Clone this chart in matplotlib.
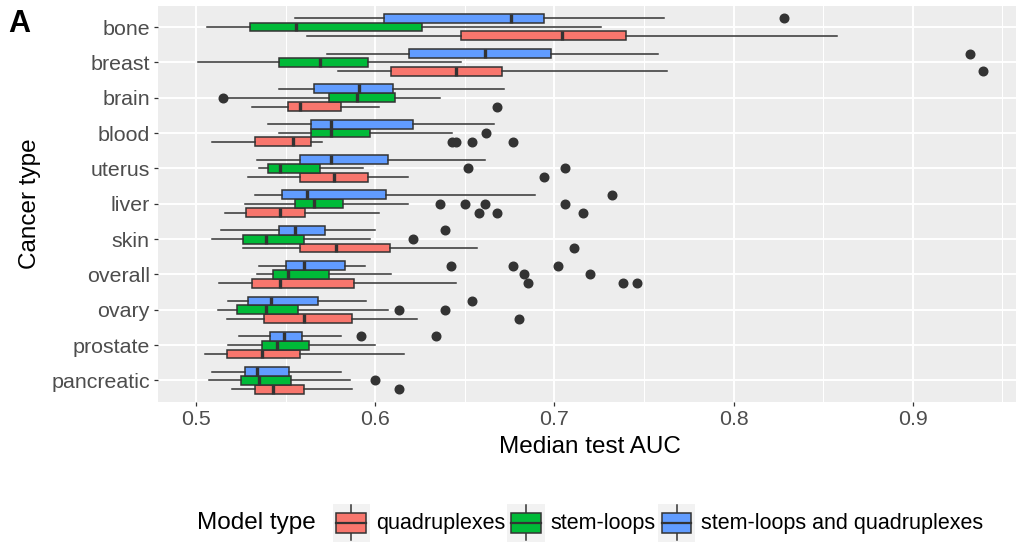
import matplotlib

matplotlib.use("Agg")
import matplotlib.pyplot as plt
from matplotlib.legend_handler import HandlerBase
from matplotlib.lines import Line2D
from matplotlib.patches import Patch, Rectangle
from matplotlib.ticker import MultipleLocator

plt.rcParams["font.family"] = ["Liberation Sans", "DejaVu Sans"]

# categories top -> bottom as drawn
CANCER_TYPES = ["bone", "breast", "brain", "blood", "uterus", "liver", "skin",
                "overall", "ovary", "prostate", "pancreatic"]
MODEL_TYPES = ["quadruplexes", "stem-loops", "stem-loops and quadruplexes"]
COLORS = ["#F8766D", "#00BA38", "#619CFF"]

# quadruplexes
QUAD_LO = [0.562, 0.579, 0.531, 0.509, 0.529, 0.516, 0.526, 0.513, 0.517, 0.505, 0.520]
QUAD_Q1 = [0.648, 0.609, 0.551, 0.533, 0.558, 0.528, 0.558, 0.531, 0.538, 0.517, 0.533]
QUAD_MED = [0.704, 0.645, 0.558, 0.554, 0.577, 0.547, 0.578, 0.547, 0.560, 0.537, 0.543]
QUAD_Q3 = [0.740, 0.671, 0.581, 0.564, 0.596, 0.561, 0.608, 0.588, 0.587, 0.558, 0.560]
QUAD_HI = [0.858, 0.763, 0.602, 0.570, 0.618, 0.602, 0.657, 0.645, 0.623, 0.616, 0.587]
QUAD_OUT = [[], [0.939], [0.668], [0.643, 0.645, 0.654, 0.677], [0.694],
            [0.658, 0.668, 0.716], [0.711], [0.685, 0.738, 0.746], [0.680], [], [0.613]]

# stem-loops
STEM_LO = [0.506, 0.501, 0.517, 0.546, 0.535, 0.527, 0.509, 0.534, 0.512, 0.518, 0.507]
STEM_Q1 = [0.530, 0.546, 0.574, 0.564, 0.540, 0.555, 0.526, 0.543, 0.523, 0.537, 0.525]
STEM_MED = [0.556, 0.569, 0.590, 0.575, 0.547, 0.566, 0.539, 0.551, 0.539, 0.545, 0.535]
STEM_Q3 = [0.626, 0.596, 0.611, 0.597, 0.569, 0.582, 0.560, 0.574, 0.557, 0.563, 0.553]
STEM_HI = [0.726, 0.648, 0.636, 0.643, 0.593, 0.618, 0.597, 0.609, 0.607, 0.600, 0.586]
STEM_OUT = [[], [], [0.515], [0.662], [0.652, 0.706], [0.636, 0.650, 0.661, 0.706],
            [0.621], [0.683, 0.720], [0.613, 0.639], [], [0.600]]

# stem-loops and quadruplexes
BOTH_LO = [0.555, 0.573, 0.546, 0.540, 0.534, 0.533, 0.514, 0.535, 0.518, 0.524, 0.509]
BOTH_Q1 = [0.605, 0.619, 0.566, 0.564, 0.558, 0.548, 0.546, 0.550, 0.529, 0.541, 0.527]
BOTH_MED = [0.676, 0.661, 0.591, 0.575, 0.575, 0.562, 0.555, 0.560, 0.542, 0.549, 0.534]
BOTH_Q3 = [0.694, 0.698, 0.610, 0.621, 0.607, 0.606, 0.572, 0.583, 0.568, 0.559, 0.552]
BOTH_HI = [0.761, 0.758, 0.672, 0.666, 0.661, 0.689, 0.600, 0.594, 0.595, 0.581, 0.581]
BOTH_OUT = [[0.828], [0.932], [], [], [], [0.732], [0.639], [0.642, 0.677, 0.702],
            [0.654], [0.592, 0.634], []]

EDGE = "#333333"
W, H = 1016, 544


def _stats(lo, q1, med, q3, hi, out):
    return [dict(whislo=a, q1=b, med=c, q3=d, whishi=e, fliers=f)
            for a, b, c, d, e, f in zip(lo, q1, med, q3, hi, out)]


class BoxKeyHandler(HandlerBase):
    # ggplot-style boxplot legend key: grey square, box, median, whiskers
    def create_artists(self, legend, orig_handle, xdescent, ydescent,
                       width, height, fontsize, trans):
        x0, y0 = -xdescent, -ydescent
        bg = Rectangle((x0, y0), width, height, facecolor="#F2F2F2",
                       edgecolor="none", transform=trans)
        bw, bh = width * 0.8, height * 0.53
        bx, by = x0 + (width - bw) / 2, y0 + (height - bh) / 2
        xm = x0 + width / 2
        w1 = Line2D([xm, xm], [by + bh, y0 + height * 0.97], color=EDGE, lw=1.1,
                    transform=trans)
        w2 = Line2D([xm, xm], [y0 + height * 0.03, by], color=EDGE, lw=1.1,
                    transform=trans)
        box = Rectangle((bx, by), bw, bh, facecolor=orig_handle.get_facecolor(),
                        edgecolor=EDGE, lw=1.1, transform=trans)
        med = Line2D([bx, bx + bw], [by + bh / 2] * 2, color=EDGE, lw=1.6,
                     transform=trans)
        return [bg, w1, w2, box, med]


groups = [
    _stats(QUAD_LO, QUAD_Q1, QUAD_MED, QUAD_Q3, QUAD_HI, QUAD_OUT),
    _stats(STEM_LO, STEM_Q1, STEM_MED, STEM_Q3, STEM_HI, STEM_OUT),
    _stats(BOTH_LO, BOTH_Q1, BOTH_MED, BOTH_Q3, BOTH_HI, BOTH_OUT),
]
n = len(CANCER_TYPES)
base = [n - i for i in range(n)]  # bone on top
offsets = [-0.25, 0.0, 0.25]

fig = plt.figure(figsize=(W / 100, H / 100), dpi=100)
left_px, right_px, top_px, bot_px = 158, 1022, 5.8, 401.7
ax = fig.add_axes([left_px / W, 1 - bot_px / H, (right_px - left_px) / W,
                   (bot_px - top_px) / H])
ax.set_facecolor("#EDEDED")
for s in ax.spines.values():
    s.set_visible(False)

for stats, off, col in zip(groups, offsets, COLORS):
    ax.bxp(stats, positions=[b + off for b in base], widths=0.25,
           orientation="horizontal", patch_artist=True, showcaps=False,
           boxprops=dict(facecolor=col, edgecolor=EDGE, linewidth=1.1),
           medianprops=dict(color=EDGE, linewidth=2.4, solid_capstyle="butt"),
           whiskerprops=dict(color=EDGE, linewidth=1.1),
           flierprops=dict(marker="o", markerfacecolor=EDGE, markeredgecolor=EDGE,
                           markersize=6.2))

ax.set_xlim(0.4787, 0.961)
ax.set_ylim(0.4, n + 0.6)
ax.xaxis.set_minor_locator(MultipleLocator(0.05))
ax.set_xticks([0.5, 0.6, 0.7, 0.8, 0.9])
ax.set_xticklabels(["0.5", "0.6", "0.7", "0.8", "0.9"])
ax.set_yticks(base)
ax.set_yticklabels(CANCER_TYPES)
ax.grid(True, which="major", color="white", linewidth=1.4)
ax.grid(True, which="minor", axis="x", color="white", linewidth=0.8)
ax.set_axisbelow(True)
ax.tick_params(which="major", length=2.9, width=0.9, color=EDGE,
               labelcolor="#4D4D4D", labelsize=15.4, pad=3)
ax.tick_params(which="minor", length=0)
ax.set_xlabel("Median test AUC", fontsize=17.5, labelpad=5)
ax.set_ylabel("Cancer type", fontsize=17.5, labelpad=7)

fig.text(8 / W, 1 - 32 / H, "A", fontsize=22, fontweight="bold", va="baseline")

fig.text(196.7 / W, 1 - 528.5 / H, "Model type", fontsize=17.5, va="baseline")
handles = [Patch(facecolor=c) for c in COLORS]
fig.legend(handles, MODEL_TYPES, loc="upper left",
           bbox_to_anchor=(332.7 / W, 1 - 504 / H), ncol=3, frameon=False,
           handlelength=1.73, handleheight=2.31, handletextpad=0.28,
           columnspacing=0.1, borderpad=0, borderaxespad=0, fontsize=15.5,
           handler_map={Patch: BoxKeyHandler()})

fig.savefig("out.png", dpi=100)
